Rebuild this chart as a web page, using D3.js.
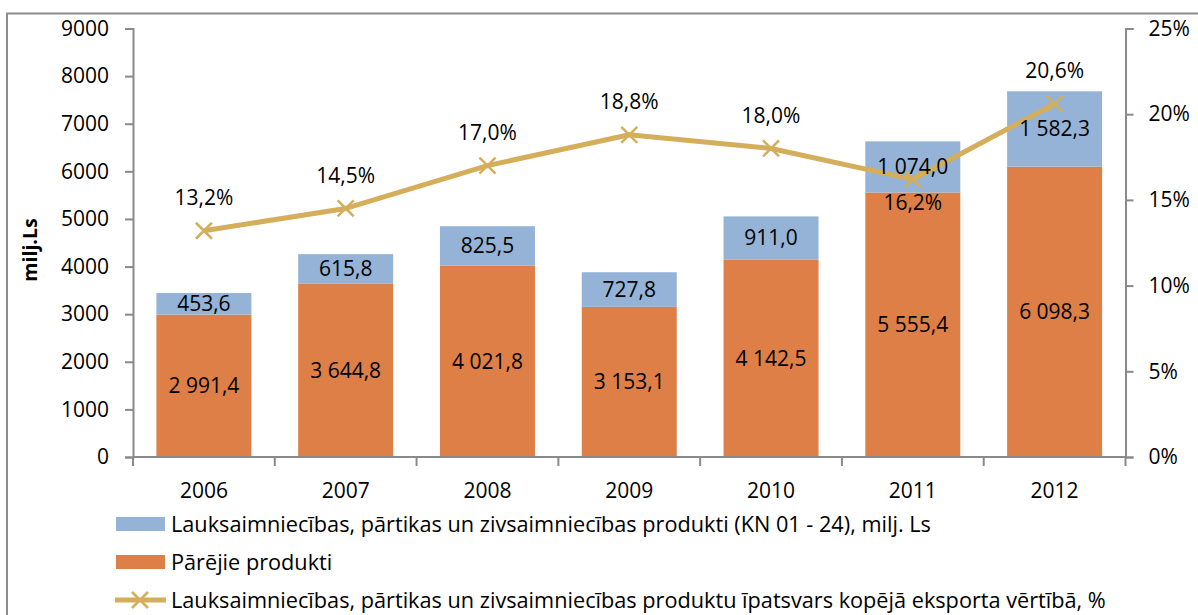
<!DOCTYPE html>
<html>
<head>
<meta charset="utf-8">
<script src="https://cdn.jsdelivr.net/npm/d3@7"></script>
<style>
  body { margin: 0; background: #fff; }
  svg { display: block; font-family: 'Open Sans', sans-serif; }
</style>
</head>
<body>
<svg id="chart" width="1198" height="615"></svg>
<script>
const years = ['2006', '2007', '2008', '2009', '2010', '2011', '2012']
const otherProducts = [2991.4, 3644.8, 4021.8, 3153.1, 4142.5, 5555.4, 6098.3]
const agriProducts = [453.6, 615.8, 825.5, 727.8, 911.0, 1074.0, 1582.3]
const agriShare = [13.2, 14.5, 17.0, 18.8, 18.0, 16.2, 20.6]
const leftTicks = [0, 1000, 2000, 3000, 4000, 5000, 6000, 7000, 8000, 9000]
const rightTicks = [0, 5, 10, 15, 20, 25]
const legendLabels = [
    'Lauksaimniecības, pārtikas un zivsaimniecības produkti (KN 01 - 24), milj. Ls',
    'Pārējie produkti',
    'Lauksaimniecības, pārtikas un zivsaimniecības produktu īpatsvars kopējā eksporta vērtībā, %'
]

const colBlue = '#94b3d6'
const colOrange = '#de7f48'
const colGold = '#d5ae5b'
const axisCol = '#8a8a8a'
const fontSize = 21

const fmt = v => d3.format(',.1f')(v).replace(/,/g, ' ').replace('.', ',')

const chart = d3.select('#chart')
const plotLeft = 133, plotRight = 1125.5, plotTop = 28.5, plotBottom = 457

// outer frame (clipped at the right and bottom like the original)
chart.append('rect')
    .attr('x', 7).attr('y', 13.5)
    .attr('width', 1300).attr('height', 700)
    .attr('fill', 'none')
    .attr('stroke', '#8c8c8c')
    .attr('stroke-width', 2)

const x = d3.scaleBand().domain(years).range([plotLeft, plotRight]).padding(0)
const y = d3.scaleLinear().domain([0, 9000]).range([plotBottom, plotTop])
const y2 = d3.scaleLinear().domain([0, 25]).range([plotBottom, plotTop])
const barW = x.bandwidth() * 0.67

// bars
const bars = chart.append('g').attr('class', 'bars')
years.forEach((yr, i) => {
    const bx = x(yr) + (x.bandwidth() - barW) / 2
    bars.append('rect')
        .attr('x', bx).attr('width', barW)
        .attr('y', y(otherProducts[i]))
        .attr('height', y(0) - y(otherProducts[i]))
        .attr('fill', colOrange)
    bars.append('rect')
        .attr('x', bx).attr('width', barW)
        .attr('y', y(otherProducts[i] + agriProducts[i]))
        .attr('height', y(otherProducts[i]) - y(otherProducts[i] + agriProducts[i]))
        .attr('fill', colBlue)
})

// left axis
const gl = chart.append('g')
    .attr('transform', 'translate(' + plotLeft + ',0)')
    .call(d3.axisLeft(y).tickValues(leftTicks).tickSize(8).tickPadding(16).tickFormat(d3.format('d')))
gl.select('.domain').attr('stroke', axisCol).attr('stroke-width', 2)
gl.selectAll('.tick line').attr('stroke', axisCol).attr('stroke-width', 2)
gl.selectAll('.tick text').attr('fill', '#000').style('font-size', fontSize + 'px').style('font-family', 'Open Sans')

// right axis
const gr = chart.append('g')
    .attr('transform', 'translate(' + plotRight + ',0)')
    .call(d3.axisRight(y2).tickValues(rightTicks).tickSize(8).tickPadding(15).tickFormat(d => d + '%'))
gr.select('.domain').attr('stroke', axisCol).attr('stroke-width', 2)
gr.selectAll('.tick line').attr('stroke', axisCol).attr('stroke-width', 2)
gr.selectAll('.tick text').attr('fill', '#000').style('font-size', fontSize + 'px').style('font-family', 'Open Sans')

// bottom axis with ticks between categories
const gb = chart.append('g')
gb.append('line')
    .attr('x1', plotLeft).attr('x2', plotRight)
    .attr('y1', plotBottom).attr('y2', plotBottom)
    .attr('stroke', axisCol).attr('stroke-width', 2)
const edges = years.map(d => x(d)).concat([plotRight])
gb.selectAll('.xtick').data(edges).enter().append('line')
    .attr('x1', d => d).attr('x2', d => d)
    .attr('y1', plotBottom).attr('y2', plotBottom + 9)
    .attr('stroke', axisCol).attr('stroke-width', 2)
gb.selectAll('.xlab').data(years).enter().append('text')
    .attr('x', d => x(d) + x.bandwidth() / 2)
    .attr('y', 498)
    .attr('text-anchor', 'middle')
    .style('font-size', fontSize + 'px')
    .text(d => d)

// y title
chart.append('text')
    .attr('transform', 'translate(37,250) rotate(-90)')
    .attr('text-anchor', 'middle')
    .style('font-size', '19.5px')
    .style('font-weight', 'bold')
    .text('milj.Ls')

// bar labels
const lab = chart.append('g').style('font-size', fontSize + 'px').attr('text-anchor', 'middle')
years.forEach((yr, i) => {
    const cx = x(yr) + x.bandwidth() / 2
    lab.append('text')
        .attr('x', cx)
        .attr('y', (y(0) + y(otherProducts[i])) / 2)
        .attr('dy', '0.35em')
        .text(fmt(otherProducts[i]))
})

// share line
const line = d3.line()
    .x((d, i) => x(years[i]) + x.bandwidth() / 2)
    .y(d => y2(d))
chart.append('path')
    .datum(agriShare)
    .attr('d', line)
    .attr('fill', 'none')
    .attr('stroke', colGold)
    .attr('stroke-width', 5)
    .attr('stroke-linejoin', 'round')

const marks = chart.append('g')
agriShare.forEach((v, i) => {
    const cx = x(years[i]) + x.bandwidth() / 2
    const cy = y2(v)
    marks.append('path')
        .attr('d', 'M' + (cx - 8) + ',' + (cy - 8) + 'L' + (cx + 8) + ',' + (cy + 8) +
            'M' + (cx - 8) + ',' + (cy + 8) + 'L' + (cx + 8) + ',' + (cy - 8))
        .attr('stroke', colGold)
        .attr('stroke-width', 2.5)
})

// blue segment labels drawn over the line
const lab2 = chart.append('g').style('font-size', fontSize + 'px').attr('text-anchor', 'middle')
years.forEach((yr, i) => {
    const cx = x(yr) + x.bandwidth() / 2
    lab2.append('text')
        .attr('x', cx)
        .attr('y', (y(otherProducts[i]) + y(otherProducts[i] + agriProducts[i])) / 2)
        .attr('dy', '0.35em')
        .text(fmt(agriProducts[i]))
})

// share labels
agriShare.forEach((v, i) => {
    const cx = x(years[i]) + x.bandwidth() / 2
    const below = years[i] === '2011'
    lab2.append('text')
        .attr('x', cx)
        .attr('y', y2(v) + (below ? 23 : -33))
        .attr('dy', '0.35em')
        .text(d3.format('.1f')(v).replace('.', ',') + '%')
})

// legend
const leg = chart.append('g').style('font-size', '21.7px')
const rowsY = [524, 562, 600]
leg.append('rect').attr('x', 116).attr('y', rowsY[0] - 7).attr('width', 49).attr('height', 14).attr('fill', colBlue)
leg.append('rect').attr('x', 116).attr('y', rowsY[1] - 7).attr('width', 49).attr('height', 14).attr('fill', colOrange)
leg.append('line').attr('x1', 115).attr('x2', 166).attr('y1', rowsY[2]).attr('y2', rowsY[2])
    .attr('stroke', colGold).attr('stroke-width', 5)
leg.append('path')
    .attr('d', 'M132,592L148,608M132,608L148,592')
    .attr('stroke', colGold).attr('stroke-width', 2.5)
legendLabels.forEach((t, i) => {
    leg.append('text')
        .attr('x', 171)
        .attr('y', rowsY[i])
        .attr('dy', '0.35em')
        .text(t)
})
</script>
</body>
</html>
